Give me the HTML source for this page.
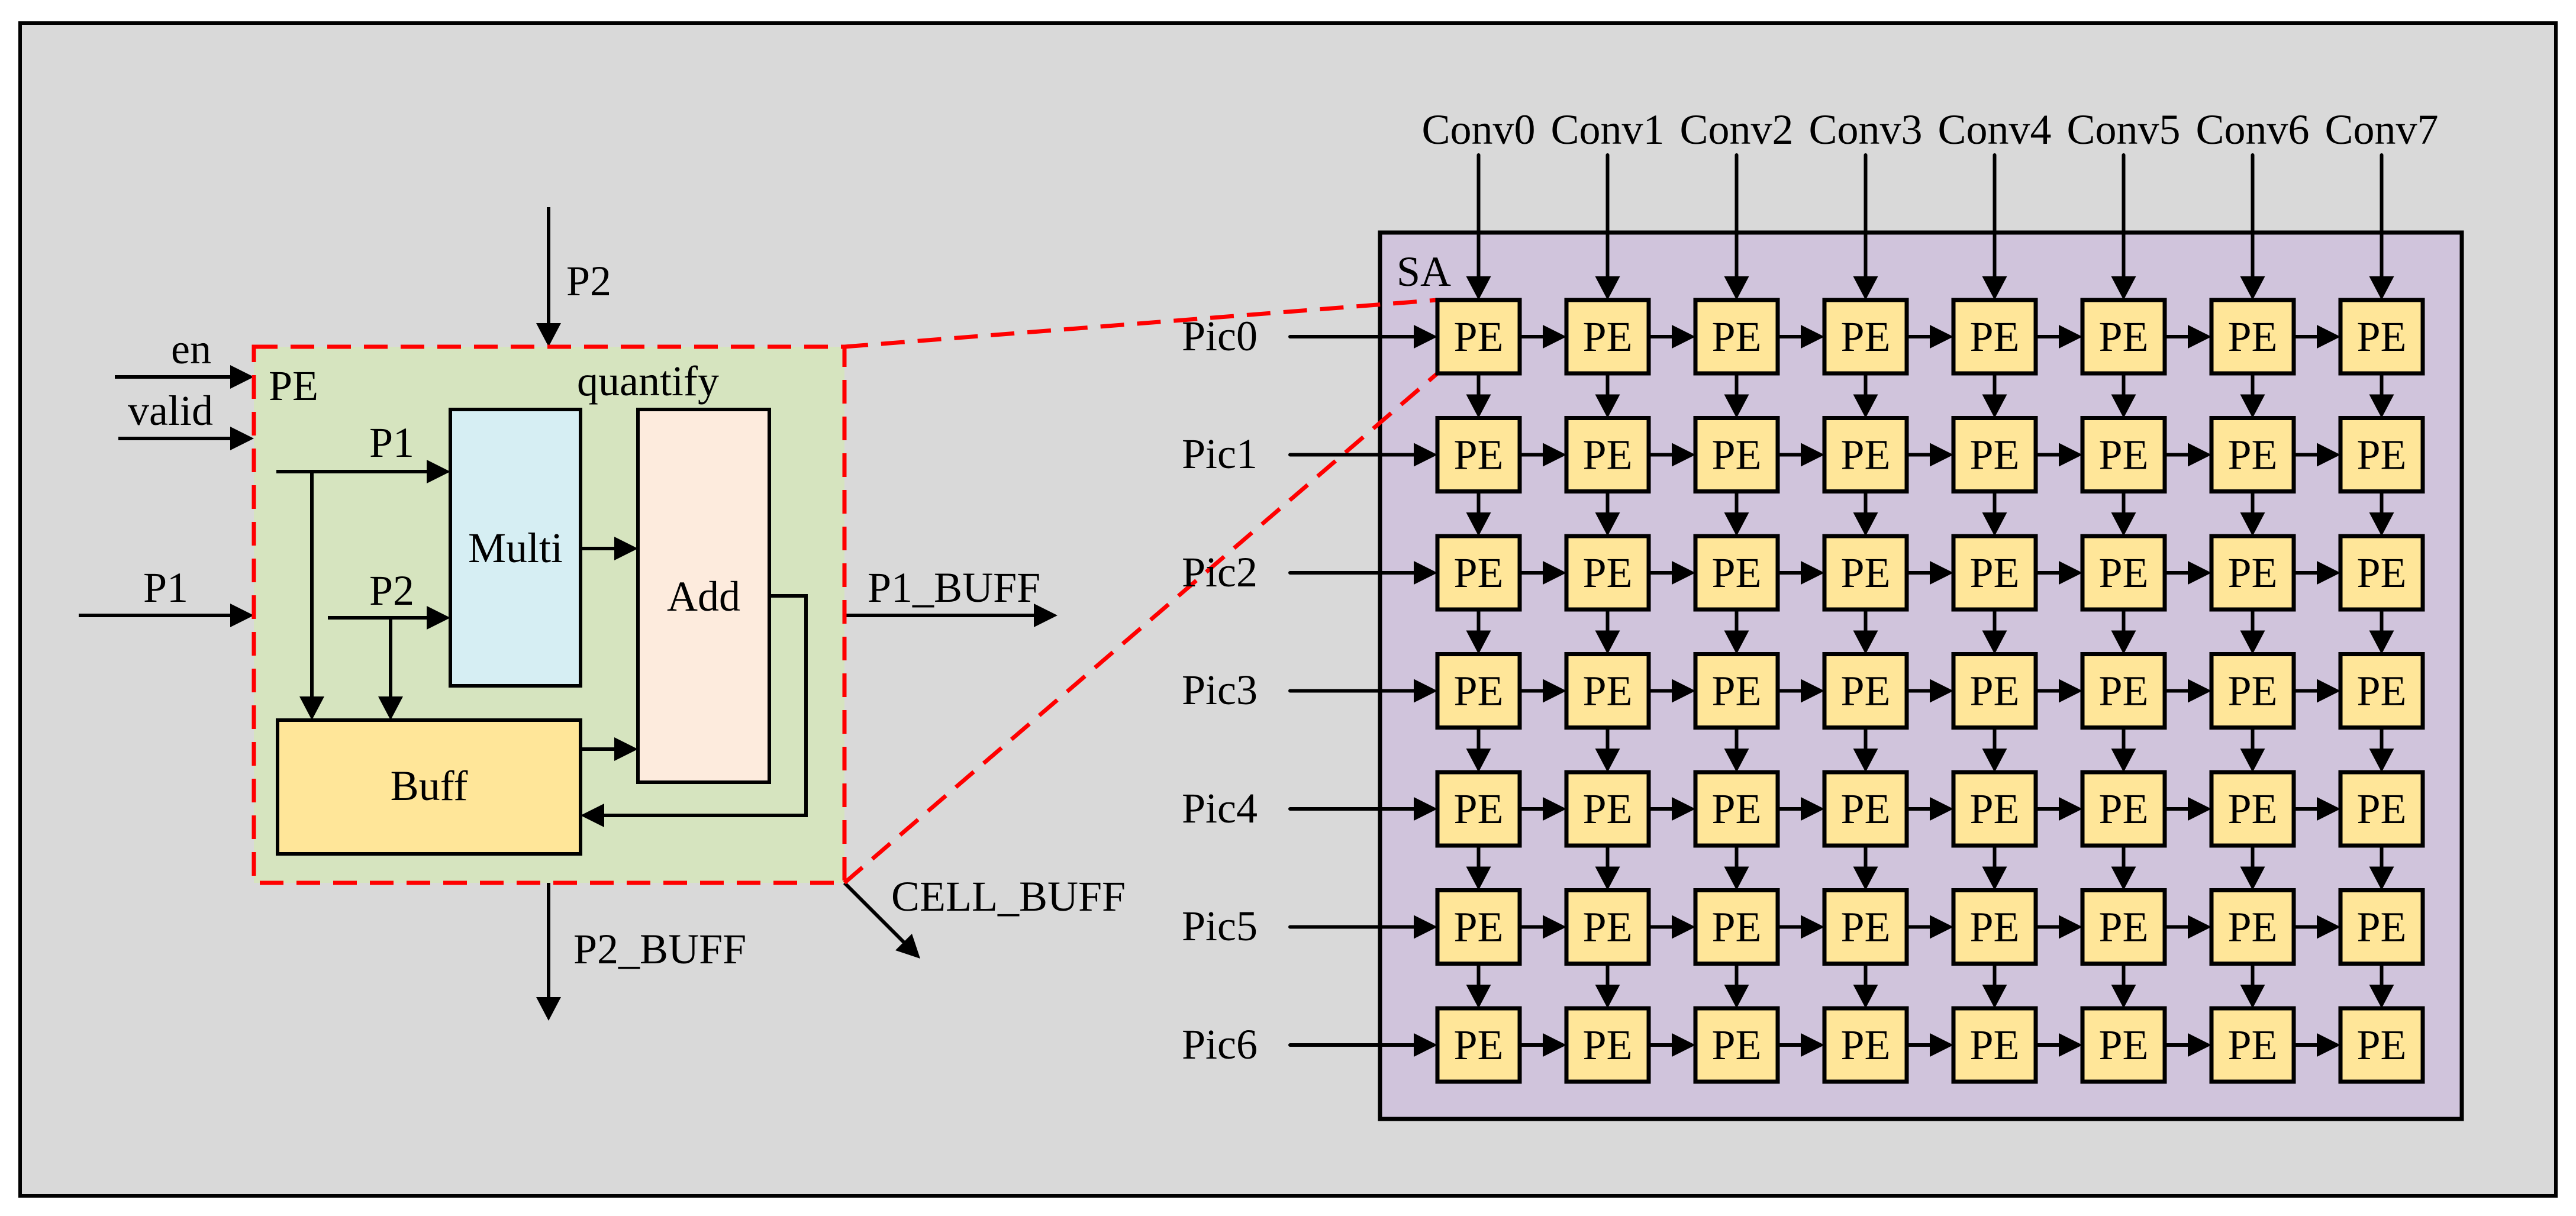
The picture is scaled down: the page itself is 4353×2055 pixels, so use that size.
<!DOCTYPE html>
<html><head><meta charset="utf-8"><style>html,body{margin:0;padding:0;background:#fff}svg{display:block}text{font-family:"Liberation Serif",serif;font-size:72px;fill:#000}</style></head><body>
<svg width="4353" height="2055" viewBox="0 0 4353 2055" xmlns="http://www.w3.org/2000/svg">
<defs>
<g id="box"><rect x="0" y="0" width="139" height="124" fill="#ffe699" stroke="#000" stroke-width="7"/></g>
<g id="ar"><line x1="139" y1="62" x2="180" y2="62" stroke="#000" stroke-width="6"/><polygon points="178,42 218,62 178,82" fill="#000"/></g>
<g id="ad"><line x1="69.5" y1="124" x2="69.5" y2="162" stroke="#000" stroke-width="6"/><polygon points="48.5,159.5 90.5,159.5 69.5,199.5" fill="#000"/></g>
<g id="cell"><use href="#ar"/><use href="#ad"/><use href="#box"/></g>
<g id="cellR"><use href="#ad"/><use href="#box"/></g>
<g id="cellB"><use href="#ar"/><use href="#box"/></g>
<g id="row"><use href="#cell" x="0"/><use href="#cell" x="218"/><use href="#cell" x="436"/><use href="#cell" x="654"/><use href="#cell" x="872"/><use href="#cell" x="1090"/><use href="#cell" x="1308"/><use href="#cellR" x="1526"/></g>
<g id="rowB"><use href="#cellB" x="0"/><use href="#cellB" x="218"/><use href="#cellB" x="436"/><use href="#cellB" x="654"/><use href="#cellB" x="872"/><use href="#cellB" x="1090"/><use href="#cellB" x="1308"/><use href="#box" x="1526"/></g>
<g id="pic"><line x1="2180" y1="0" x2="2392" y2="0" stroke="#000" stroke-width="6" stroke-linecap="round"/><polygon points="2389,-20 2429,0 2389,20" fill="#000"/></g>
<g id="conv"><line x1="0" y1="262" x2="0" y2="470" stroke="#000" stroke-width="6" stroke-linecap="round"/><polygon points="-21,467 21,467 0,507" fill="#000"/></g>
</defs>
<rect x="34" y="39" width="4285" height="1982" fill="#d9d9d9" stroke="#000" stroke-width="6"/>

<!-- Left PE detail -->
<rect x="429" y="586" width="998" height="906" fill="#d6e4bf"/>
<rect x="761" y="692" width="220" height="467" fill="#d6eef3" stroke="#000" stroke-width="6"/>
<rect x="1078" y="692" width="222" height="630" fill="#fdebdd" stroke="#000" stroke-width="6"/>
<rect x="469" y="1217" width="512" height="226" fill="#ffe699" stroke="#000" stroke-width="6"/>
<g stroke="#000" stroke-width="6" fill="none">
<line x1="927" y1="350" x2="927" y2="548"/>
<line x1="194" y1="637" x2="391" y2="637"/>
<line x1="200" y1="741" x2="391" y2="741"/>
<line x1="133" y1="1040" x2="391" y2="1040"/>
<line x1="467" y1="797" x2="723" y2="797"/>
<line x1="527" y1="797" x2="527" y2="1180"/>
<line x1="554" y1="1044" x2="723" y2="1044"/>
<line x1="660" y1="1044" x2="660" y2="1180"/>
<line x1="981" y1="927" x2="1040" y2="927"/>
<line x1="981" y1="1266" x2="1040" y2="1266"/>
<polyline points="1300,1007 1362,1007 1362,1378 1019,1378"/>
<line x1="1427" y1="1040" x2="1749" y2="1040"/>
<line x1="927" y1="1492" x2="927" y2="1687"/>
<line x1="1427" y1="1492" x2="1530" y2="1595"/>
</g>
<g fill="#000">
<polygon points="906,546 948,546 927,586"/>
<polygon points="389,617 429,637 389,657"/>
<polygon points="389,721 429,741 389,761"/>
<polygon points="389,1020 429,1040 389,1060"/>
<polygon points="721,777 761,797 721,817"/>
<polygon points="506,1177 548,1177 527,1217"/>
<polygon points="721,1024 761,1044 721,1064"/>
<polygon points="639,1177 681,1177 660,1217"/>
<polygon points="1038,907 1078,927 1038,947"/>
<polygon points="1038,1246 1078,1266 1038,1286"/>
<polygon points="1021,1358 981,1378 1021,1398"/>
<polygon points="1747,1020 1787,1040 1747,1060"/>
<polygon points="906,1685 948,1685 927,1725"/>
<polygon points="1555,1620 1541,1578 1513,1606"/>
</g>
<rect x="429" y="586" width="998" height="906" fill="none" stroke="#ff0000" stroke-width="7" stroke-dasharray="40,22"/>
<text x="357" y="614" text-anchor="end">en</text>
<text x="360" y="718" text-anchor="end">valid</text>
<text x="454" y="676">PE</text>
<text x="975" y="668">quantify</text>
<text x="624" y="772">P1</text>
<text x="624" y="1022">P2</text>
<text x="871" y="950" text-anchor="middle">Multi</text>
<text x="1189" y="1032" text-anchor="middle">Add</text>
<text x="725" y="1352" text-anchor="middle">Buff</text>
<text x="242" y="1017">P1</text>
<text x="1466" y="1017">P1_BUFF</text>
<text x="957" y="499">P2</text>
<text x="969" y="1628">P2_BUFF</text>
<text x="1506" y="1539">CELL_BUFF</text>

<!-- SA -->
<rect x="2332" y="393" width="1828" height="1498" fill="#d0c4dc" stroke="#000" stroke-width="7"/>
<g stroke="#ff0000" stroke-width="7" stroke-dasharray="40,22">
<line x1="1427" y1="586" x2="2429" y2="507"/>
<line x1="1427" y1="1492" x2="2429" y2="631"/>
</g>
<text x="2360" y="483">SA</text>
<use href="#pic" y="569"/><use href="#pic" y="768.5"/><use href="#pic" y="968"/><use href="#pic" y="1167.5"/><use href="#pic" y="1367"/><use href="#pic" y="1566.5"/><use href="#pic" y="1766"/>
<use href="#conv" x="2498.5"/><use href="#conv" x="2716.5"/><use href="#conv" x="2934.5"/><use href="#conv" x="3152.5"/><use href="#conv" x="3370.5"/><use href="#conv" x="3588.5"/><use href="#conv" x="3806.5"/><use href="#conv" x="4024.5"/>
<g transform="translate(2429,507)"><use href="#row" y="0"/><use href="#row" y="199.5"/><use href="#row" y="399"/><use href="#row" y="598.5"/><use href="#row" y="798"/><use href="#row" y="997.5"/><use href="#rowB" y="1197"/></g>
<g text-anchor="middle">
<text x="2498.5" y="243">Conv0</text><text x="2716.5" y="243">Conv1</text><text x="2934.5" y="243">Conv2</text><text x="3152.5" y="243">Conv3</text><text x="3370.5" y="243">Conv4</text><text x="3588.5" y="243">Conv5</text><text x="3806.5" y="243">Conv6</text><text x="4024.5" y="243">Conv7</text>
</g>
<g>
<text x="1997" y="592">Pic0</text><text x="1997" y="791">Pic1</text><text x="1997" y="991">Pic2</text><text x="1997" y="1190">Pic3</text><text x="1997" y="1390">Pic4</text><text x="1997" y="1589">Pic5</text><text x="1997" y="1789">Pic6</text>
</g>
<g text-anchor="middle" font-size="70">
<text x="2498.5" y="593">PE</text><text x="2716.5" y="593">PE</text><text x="2934.5" y="593">PE</text><text x="3152.5" y="593">PE</text><text x="3370.5" y="593">PE</text><text x="3588.5" y="593">PE</text><text x="3806.5" y="593">PE</text><text x="4024.5" y="593">PE</text>
<text x="2498.5" y="792.5">PE</text><text x="2716.5" y="792.5">PE</text><text x="2934.5" y="792.5">PE</text><text x="3152.5" y="792.5">PE</text><text x="3370.5" y="792.5">PE</text><text x="3588.5" y="792.5">PE</text><text x="3806.5" y="792.5">PE</text><text x="4024.5" y="792.5">PE</text>
<text x="2498.5" y="992">PE</text><text x="2716.5" y="992">PE</text><text x="2934.5" y="992">PE</text><text x="3152.5" y="992">PE</text><text x="3370.5" y="992">PE</text><text x="3588.5" y="992">PE</text><text x="3806.5" y="992">PE</text><text x="4024.5" y="992">PE</text>
<text x="2498.5" y="1191.5">PE</text><text x="2716.5" y="1191.5">PE</text><text x="2934.5" y="1191.5">PE</text><text x="3152.5" y="1191.5">PE</text><text x="3370.5" y="1191.5">PE</text><text x="3588.5" y="1191.5">PE</text><text x="3806.5" y="1191.5">PE</text><text x="4024.5" y="1191.5">PE</text>
<text x="2498.5" y="1391">PE</text><text x="2716.5" y="1391">PE</text><text x="2934.5" y="1391">PE</text><text x="3152.5" y="1391">PE</text><text x="3370.5" y="1391">PE</text><text x="3588.5" y="1391">PE</text><text x="3806.5" y="1391">PE</text><text x="4024.5" y="1391">PE</text>
<text x="2498.5" y="1590.5">PE</text><text x="2716.5" y="1590.5">PE</text><text x="2934.5" y="1590.5">PE</text><text x="3152.5" y="1590.5">PE</text><text x="3370.5" y="1590.5">PE</text><text x="3588.5" y="1590.5">PE</text><text x="3806.5" y="1590.5">PE</text><text x="4024.5" y="1590.5">PE</text>
<text x="2498.5" y="1790">PE</text><text x="2716.5" y="1790">PE</text><text x="2934.5" y="1790">PE</text><text x="3152.5" y="1790">PE</text><text x="3370.5" y="1790">PE</text><text x="3588.5" y="1790">PE</text><text x="3806.5" y="1790">PE</text><text x="4024.5" y="1790">PE</text>
</g>
</svg>
</body></html>
